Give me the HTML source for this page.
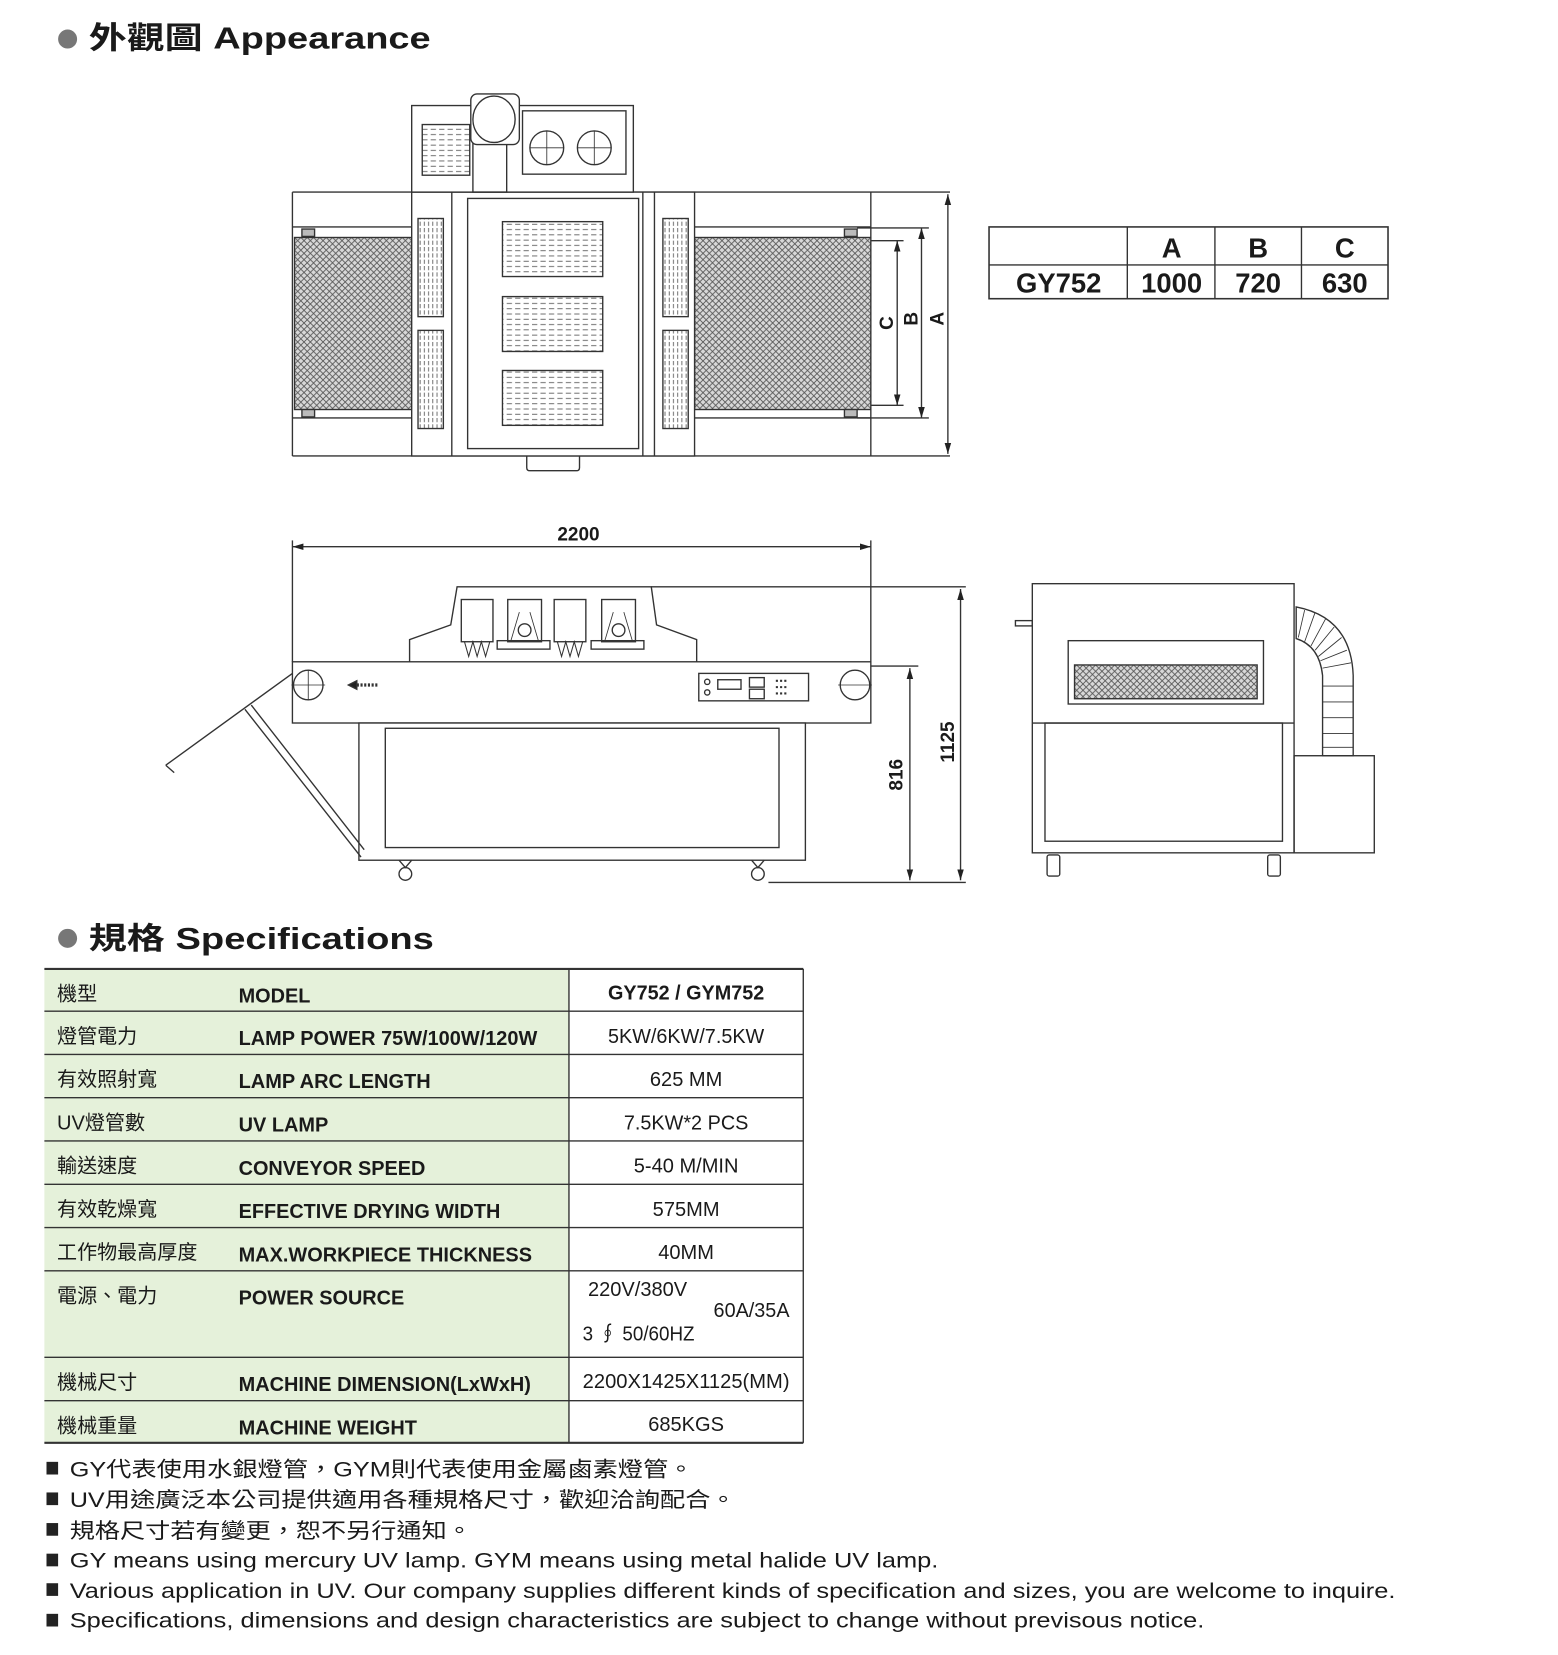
<!DOCTYPE html>
<html><head><meta charset="utf-8"><style>
html,body{margin:0;padding:0;background:#fff;}
svg{display:block;}
text{font-family:"Liberation Sans","Noto Sans CJK TC",sans-serif;fill:#1a1a1a;}
</style></head><body>
<svg width="1558" height="1655" viewBox="0 0 1476 1568" xmlns="http://www.w3.org/2000/svg">
<defs>
<pattern id="mesh" width="6" height="6" patternUnits="userSpaceOnUse">
<rect width="6" height="6" fill="#d8d8d8"/>
<path d="M0 0L6 6M6 0L0 6" stroke="#555" stroke-width="0.8"/>
</pattern>
<pattern id="vent" width="8" height="5" patternUnits="userSpaceOnUse">
<rect width="8" height="5" fill="#fff"/>
<path d="M0 2.5H5" stroke="#555" stroke-width="0.8"/>
</pattern>
<pattern id="slat" width="4" height="6" patternUnits="userSpaceOnUse">
<rect width="4" height="6" fill="#fff"/>
<path d="M2 0V4" stroke="#555" stroke-width="0.8"/>
</pattern>
<marker id="ar" viewBox="0 0 10 10" refX="10" refY="5" markerWidth="8" markerHeight="8" orient="auto-start-reverse"><path d="M0 2L10 5L0 8z" fill="#222"/></marker>
</defs>

<!-- Headings -->
<circle cx="64" cy="37" r="9" fill="#777"/>
<text x="84" y="46" font-size="29" font-weight="bold" textLength="324" lengthAdjust="spacingAndGlyphs">外觀圖  Appearance</text>
<circle cx="64" cy="889" r="9" fill="#777"/>
<text x="84" y="899" font-size="29" font-weight="bold" textLength="327" lengthAdjust="spacingAndGlyphs">規格  Specifications</text>

<g fill="none" stroke="#333" stroke-width="1.3">
<!-- TOP VIEW -->
<line x1="277" y1="182" x2="900" y2="182"/>
<line x1="277" y1="432" x2="900" y2="432"/>
<line x1="277" y1="182" x2="277" y2="432"/>
<line x1="825" y1="182" x2="825" y2="432"/>
<rect x="279" y="225" width="111" height="163" fill="url(#mesh)"/>
<rect x="658" y="225" width="167" height="163" fill="url(#mesh)"/>
<line x1="277" y1="215" x2="390" y2="215"/><line x1="277" y1="396" x2="390" y2="396"/>
<line x1="658" y1="215" x2="825" y2="215"/><line x1="658" y1="396" x2="825" y2="396"/>
<rect x="286" y="217" width="12" height="7" fill="#bbb"/><rect x="286" y="388" width="12" height="7" fill="#bbb"/>
<rect x="800" y="217" width="12" height="7" fill="#bbb"/><rect x="800" y="388" width="12" height="7" fill="#bbb"/>
<rect x="390" y="182" width="268" height="250" fill="#fff"/>
<line x1="428" y1="182" x2="428" y2="432"/><line x1="609" y1="182" x2="609" y2="432"/>
<line x1="620" y1="182" x2="620" y2="432"/>
<rect x="443" y="188" width="162" height="237"/>
<rect x="396" y="207" width="24" height="93" fill="url(#slat)"/>
<rect x="396" y="313" width="24" height="93" fill="url(#slat)"/>
<rect x="628" y="207" width="24" height="93" fill="url(#slat)"/>
<rect x="628" y="313" width="24" height="93" fill="url(#slat)"/>
<rect x="476" y="210" width="95" height="52" fill="url(#vent)"/>
<rect x="476" y="281" width="95" height="52" fill="url(#vent)"/>
<rect x="476" y="351" width="95" height="52" fill="url(#vent)"/>
<path d="M499 432V443Q499 446 502 446H546Q549 446 549 443V432"/>
<rect x="390" y="100" width="210" height="82" fill="#fff"/>
<rect x="400" y="118" width="45" height="48" fill="url(#vent)"/>
<rect x="448" y="120" width="32" height="62"/>
<rect x="446" y="89" width="46" height="48" rx="6" fill="#fff"/>
<ellipse cx="468" cy="113" rx="20" ry="22"/>
<rect x="495" y="105" width="98" height="60"/>
<circle cx="518" cy="140" r="16"/><circle cx="563" cy="140" r="16"/>
<path d="M502 140h32M518 124v32M547 140h32M563 124v32" stroke-width="0.8"/>
<!-- dims -->
<line x1="898" y1="184" x2="898" y2="430" marker-start="url(#ar)" marker-end="url(#ar)"/>
<line x1="873" y1="216" x2="873" y2="396" marker-start="url(#ar)" marker-end="url(#ar)"/>
<line x1="850" y1="228" x2="850" y2="384" marker-start="url(#ar)" marker-end="url(#ar)"/>
<line x1="812" y1="216" x2="880" y2="216"/><line x1="812" y1="396" x2="880" y2="396"/>
<line x1="825" y1="228" x2="856" y2="228"/><line x1="825" y1="384" x2="856" y2="384"/>

<!-- Dimension table -->
<rect x="937" y="215" width="378" height="68" stroke-width="1.5"/>
<line x1="937" y1="251" x2="1315" y2="251"/>
<line x1="1068" y1="215" x2="1068" y2="283"/><line x1="1151" y1="215" x2="1151" y2="283"/><line x1="1233" y1="215" x2="1233" y2="283"/>

<!-- FRONT VIEW -->
<line x1="277" y1="518" x2="825" y2="518" marker-start="url(#ar)" marker-end="url(#ar)"/>
<line x1="277" y1="512" x2="277" y2="627"/><line x1="825" y1="512" x2="825" y2="627"/>
<path d="M388 627V606L427 592L433 556H617L622 592L660 606V627" fill="#fff"/>
<line x1="617" y1="556" x2="915" y2="556"/>
<rect x="437" y="568" width="30" height="40"/><rect x="481" y="568" width="32" height="40"/>
<rect x="525" y="568" width="30" height="40"/><rect x="570" y="568" width="32" height="40"/>
<path d="M440 608l4 14 4-14 4 14 4-14 4 14 4-14M528 608l4 14 4-14 4 14 4-14 4 14 4-14" stroke-width="1"/>
<circle cx="497" cy="597" r="6"/><circle cx="586" cy="597" r="6"/>
<path d="M484 607L492 580M510 607L502 580M573 607L581 580M599 607L591 580" stroke-width="0.8"/>
<rect x="471" y="607" width="50" height="8"/><rect x="560" y="607" width="50" height="8"/>
<rect x="277" y="627" width="548" height="58" fill="#fff"/>
<circle cx="292" cy="649" r="14"/><circle cx="810" cy="649" r="14"/>
<path d="M276 649h32M292 635v28M794 649h32" stroke-width="0.8"/>
<path d="M330 649l8-4v8z" fill="#222"/><path d="M338 649h20" stroke-width="3" stroke-dasharray="2 1.5"/>
<rect x="662" y="638" width="104" height="26"/>
<rect x="680" y="644" width="22" height="9"/><rect x="710" y="642" width="14" height="9"/><rect x="710" y="653" width="14" height="9"/>
<circle cx="670" cy="646" r="2.5"/><circle cx="670" cy="656" r="2.5"/>
<path d="M735 645h12M735 651h12M735 657h12" stroke-width="2" stroke-dasharray="2 2"/>
<rect x="340" y="685" width="423" height="130" fill="#fff"/>
<rect x="365" y="690" width="373" height="113"/>
<circle cx="384" cy="828" r="6"/><circle cx="718" cy="828" r="6"/>
<path d="M378 815l6 7 6-7M712 815l6 7 6-7"/>
<line x1="277" y1="638" x2="157" y2="725"/><line x1="157" y1="725" x2="165" y2="732"/>
<line x1="232" y1="672" x2="342" y2="812"/><line x1="238" y1="668" x2="345" y2="805"/>
<line x1="862" y1="633" x2="862" y2="834" marker-start="url(#ar)" marker-end="url(#ar)"/>
<line x1="910" y1="558" x2="910" y2="834" marker-start="url(#ar)" marker-end="url(#ar)"/>
<line x1="825" y1="631" x2="870" y2="631"/>
<line x1="728" y1="836" x2="915" y2="836"/>

<!-- SIDE VIEW -->
<rect x="978" y="553" width="248" height="255" fill="#fff"/>
<line x1="978" y1="685" x2="1226" y2="685"/>
<rect x="1012" y="607" width="185" height="60"/>
<rect x="1018" y="630" width="173" height="32" fill="url(#mesh)"/>
<rect x="990" y="685" width="225" height="112"/>
<rect x="962" y="588" width="16" height="5"/>
<rect x="1226" y="716" width="76" height="92"/>
<path d="M1228 575Q1280 585 1282 640V716H1253V640Q1250 612 1228 605Z" fill="#fff"/>
<path d="M1236 578l-6 26M1246 580l-10 28M1256 586l-14 26M1264 594l-18 22M1271 604l-22 18M1276 616l-25 10M1280 628l-27 5M1253 650h29M1253 665h29M1253 680h29M1253 695h29M1253 708h29" stroke-width="0.8"/>
<rect x="992" y="810" width="12" height="20" rx="2"/><rect x="1201" y="810" width="12" height="20" rx="2"/>

<!-- Spec table -->
<rect x="42" y="918" width="497" height="449" fill="#e5f1da" stroke="none"/>
<line x1="42" y1="918" x2="761" y2="918" stroke-width="2"/>
<line x1="42" y1="958" x2="761" y2="958"/><line x1="42" y1="999" x2="761" y2="999"/>
<line x1="42" y1="1040" x2="761" y2="1040"/><line x1="42" y1="1081" x2="761" y2="1081"/>
<line x1="42" y1="1122" x2="761" y2="1122"/><line x1="42" y1="1163" x2="761" y2="1163"/>
<line x1="42" y1="1204" x2="761" y2="1204"/><line x1="42" y1="1286" x2="761" y2="1286"/>
<line x1="42" y1="1327" x2="761" y2="1327"/><line x1="42" y1="1367" x2="761" y2="1367" stroke-width="2"/>
<line x1="539" y1="918" x2="539" y2="1367"/><line x1="761" y1="918" x2="761" y2="1367"/>
</g>

<!-- text: top view -->
<g font-weight="bold" font-size="18">
<text transform="translate(846,306) rotate(-90)" text-anchor="middle">C</text>
<text transform="translate(869,302) rotate(-90)" text-anchor="middle">B</text>
<text transform="translate(894,302) rotate(-90)" text-anchor="middle">A</text>
<text x="548" y="512" text-anchor="middle">2200</text>
<text transform="translate(855,734) rotate(-90)" text-anchor="middle">816</text>
<text transform="translate(904,703) rotate(-90)" text-anchor="middle">1125</text>
</g>
<g font-weight="bold" font-size="26" text-anchor="middle">
<text x="1110" y="244">A</text><text x="1192" y="244">B</text><text x="1274" y="244">C</text>
<text x="1003" y="277">GY752</text><text x="1110" y="277">1000</text><text x="1192" y="277">720</text><text x="1274" y="277">630</text>
</g>

<!-- spec text -->
<g font-size="19">
<text x="54" y="948">機型</text>
<text x="54" y="988">燈管電力</text>
<text x="54" y="1029">有效照射寬</text>
<text x="54" y="1070">UV燈管數</text>
<text x="54" y="1111">輸送速度</text>
<text x="54" y="1152">有效乾燥寬</text>
<text x="54" y="1193">工作物最高厚度</text>
<text x="54" y="1234">電源、電力</text>
<text x="54" y="1316">機械尺寸</text>
<text x="54" y="1357">機械重量</text>
</g>
<g font-size="19" font-weight="bold">
<text x="226" y="950" textLength="68" lengthAdjust="spacingAndGlyphs">MODEL</text>
<text x="226" y="990" textLength="283" lengthAdjust="spacingAndGlyphs">LAMP POWER 75W/100W/120W</text>
<text x="226" y="1031" textLength="182" lengthAdjust="spacingAndGlyphs">LAMP ARC LENGTH</text>
<text x="226" y="1072" textLength="85" lengthAdjust="spacingAndGlyphs">UV LAMP</text>
<text x="226" y="1113" textLength="177" lengthAdjust="spacingAndGlyphs">CONVEYOR SPEED</text>
<text x="226" y="1154" textLength="248" lengthAdjust="spacingAndGlyphs">EFFECTIVE DRYING WIDTH</text>
<text x="226" y="1195" textLength="278" lengthAdjust="spacingAndGlyphs">MAX.WORKPIECE THICKNESS</text>
<text x="226" y="1236" textLength="157" lengthAdjust="spacingAndGlyphs">POWER SOURCE</text>
<text x="226" y="1318" textLength="277" lengthAdjust="spacingAndGlyphs">MACHINE DIMENSION(LxWxH)</text>
<text x="226" y="1359" textLength="169" lengthAdjust="spacingAndGlyphs">MACHINE WEIGHT</text>
<text x="650" y="947" text-anchor="middle" textLength="148" lengthAdjust="spacingAndGlyphs">GY752 / GYM752</text>
</g>
<g font-size="19" text-anchor="middle">
<text x="650" y="988" textLength="148" lengthAdjust="spacingAndGlyphs">5KW/6KW/7.5KW</text>
<text x="650" y="1029">625 MM</text>
<text x="650" y="1070" textLength="118" lengthAdjust="spacingAndGlyphs">7.5KW*2 PCS</text>
<text x="650" y="1111">5-40 M/MIN</text>
<text x="650" y="1152">575MM</text>
<text x="650" y="1193">40MM</text>
<text x="604" y="1228" textLength="94" lengthAdjust="spacingAndGlyphs">220V/380V</text>
<text x="712" y="1248" textLength="72" lengthAdjust="spacingAndGlyphs">60A/35A</text>
<text x="605" y="1270" textLength="106" lengthAdjust="spacingAndGlyphs">3 ∮ 50/60HZ</text>
<text x="650" y="1315" textLength="196" lengthAdjust="spacingAndGlyphs">2200X1425X1125(MM)</text>
<text x="650" y="1356">685KGS</text>
</g>

<!-- notes -->
<g fill="#222">
<rect x="44" y="1385" width="11" height="12"/><rect x="44" y="1414" width="11" height="12"/>
<rect x="44" y="1443" width="11" height="12"/><rect x="44" y="1472" width="11" height="12"/>
<rect x="44" y="1500" width="11" height="12"/><rect x="44" y="1529" width="11" height="12"/>
</g>
<g font-size="20">
<text x="66" y="1399" textLength="591" lengthAdjust="spacingAndGlyphs">GY代表使用水銀燈管，GYM則代表使用金屬鹵素燈管。</text>
<text x="66" y="1428" textLength="631" lengthAdjust="spacingAndGlyphs">UV用途廣泛本公司提供適用各種規格尺寸，歡迎洽詢配合。</text>
<text x="66" y="1457" textLength="381" lengthAdjust="spacingAndGlyphs">規格尺寸若有變更，恕不另行通知。</text>
<text x="66" y="1485" textLength="823" lengthAdjust="spacingAndGlyphs">GY means using mercury UV lamp. GYM means using metal halide UV lamp.</text>
<text x="66" y="1514" textLength="1256" lengthAdjust="spacingAndGlyphs">Various application in UV. Our company supplies different kinds of specification and sizes, you are welcome to inquire.</text>
<text x="66" y="1542" textLength="1075" lengthAdjust="spacingAndGlyphs">Specifications, dimensions and design characteristics are subject to change without previsous notice.</text>
</g>
</svg>
</body></html>
